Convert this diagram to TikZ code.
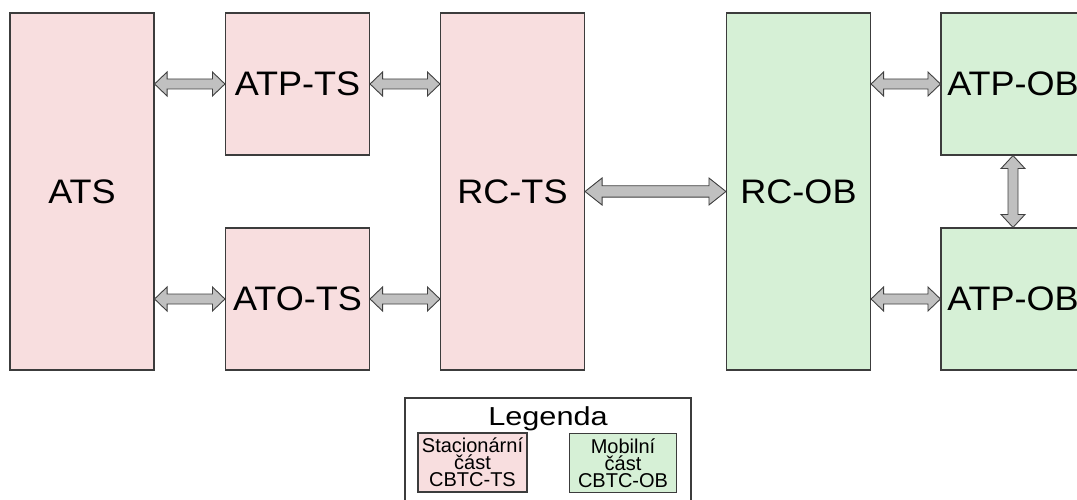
\documentclass[tikz,border=0pt]{standalone}
\usepackage{fontspec}
\setmainfont{Liberation Sans}
\usetikzlibrary{calc}

\definecolor{tsfill}{RGB}{248,222,223}
\definecolor{obfill}{RGB}{214,240,214}
\definecolor{boxline}{RGB}{60,60,60}
\definecolor{arrowfill}{RGB}{192,192,192}
\definecolor{arrowline}{RGB}{64,64,64}

% slightly widened lettering
\newcommand\wide[2]{\scalebox{#1}[1]{#2}}

% double-headed block arrows between two points
% #1 start, #2 end, #3 shaft half-width, #4 head half-width, #5 head length
\newcommand\harrow[5]{%
  \path[arrowbody] let \p1=(#1), \p2=(#2) in
    (\x1,\y1) -- (\x1+#5,\y1+#4) -- (\x1+#5,\y1+#3) -- (\x2-#5,\y1+#3)
    -- (\x2-#5,\y1+#4) -- (\x2,\y1) -- (\x2-#5,\y1-#4) -- (\x2-#5,\y1-#3)
    -- (\x1+#5,\y1-#3) -- (\x1+#5,\y1-#4) -- cycle;}
\newcommand\varrow[5]{%
  \path[arrowbody] let \p1=(#1), \p2=(#2) in
    (\x1,\y1) -- (\x1+#4,\y1-#5) -- (\x1+#3,\y1-#5) -- (\x1+#3,\y2+#5)
    -- (\x1+#4,\y2+#5) -- (\x1,\y2) -- (\x1-#4,\y2+#5) -- (\x1-#3,\y2+#5)
    -- (\x1-#3,\y1-#5) -- (\x1-#4,\y1-#5) -- cycle;}

\tikzset{
  unit/.style={draw=boxline, line width=1.1pt, rectangle, inner sep=0pt,
    minimum width=144pt, font=\fontsize{34}{40}\selectfont},
  ts/.style={unit, fill=tsfill},
  ob/.style={unit, fill=obfill},
  tall/.style={minimum height=357pt},
  short/.style={minimum height=142pt},
  arrowbody/.style={fill=arrowfill, draw=arrowline, line width=0.9pt, line join=miter},
  legendframe/.style={draw=boxline, line width=1.1pt, rectangle, inner sep=0pt,
    minimum width=286pt, minimum height=112pt},
  legenditem/.style={draw=boxline, line width=1.1pt, rectangle, inner sep=0pt,
    minimum height=59pt, align=center,
    font=\fontsize{20}{17}\selectfont},
}

\begin{document}
\begin{tikzpicture}[x=1pt, y=-1pt]
  \useasboundingbox (0,0) rectangle (1077,500);
  \clip (0,0) rectangle (1077,500);

  % trackside (stationary) part
  \node[ts, tall]  (ats)   at (82,191.5)   {\wide{1.06}{ATS}};
  \node[ts, short] (atpts) at (297.5,84)   {\wide{1.06}{ATP-TS}};
  \node[ts, short] (atots) at (297.5,299)  {\wide{1.06}{ATO-TS}};
  \node[ts, tall]  (rcts)  at (512.5,191.5){\wide{1.06}{RC-TS}};

  % on-board (mobile) part
  \node[ob, tall]  (rcob)   at (798.5,191.5) {\wide{1.06}{RC-OB}};
  \node[ob, short] (atpob1) at (1013,84)     {\wide{1.06}{ATP-OB}};
  \node[ob, short] (atpob2) at (1013,299)    {\wide{1.06}{ATP-OB}};

  % interfaces
  \harrow{ats.east |- atpts.west}{atpts.west}{5pt}{12pt}{12.5pt}
  \harrow{atpts.east}{rcts.west |- atpts.east}{5pt}{12pt}{12.5pt}
  \harrow{ats.east |- atots.west}{atots.west}{5pt}{12pt}{12.5pt}
  \harrow{atots.east}{rcts.west |- atots.east}{5pt}{12pt}{12.5pt}
  \harrow{rcts.east}{rcob.west}{5.7pt}{13.5pt}{17pt}
  \harrow{rcob.east |- atpob1.west}{atpob1.west}{5pt}{12pt}{12.5pt}
  \harrow{rcob.east |- atpob2.west}{atpob2.west}{5pt}{12pt}{12.5pt}
  \varrow{atpob1.south}{atpob2.north}{5pt}{12pt}{13pt}

  % legend
  \node[legendframe] (legend) at (548,454) {};
  \node[anchor=base, inner sep=0pt, font=\fontsize{26}{30}\selectfont]
    (legendtitle) at (548,425) {\wide{1.18}{Legenda}};
  \node[legenditem, fill=tsfill, minimum width=109pt] (legts) at (472.5,462.5)
    {Stacionární\\část\\CBTC-TS};
  \node[legenditem, fill=obfill, minimum width=107pt] (legob) at (623,463)
    {Mobilní\\část\\CBTC-OB};
\end{tikzpicture}
\end{document}
